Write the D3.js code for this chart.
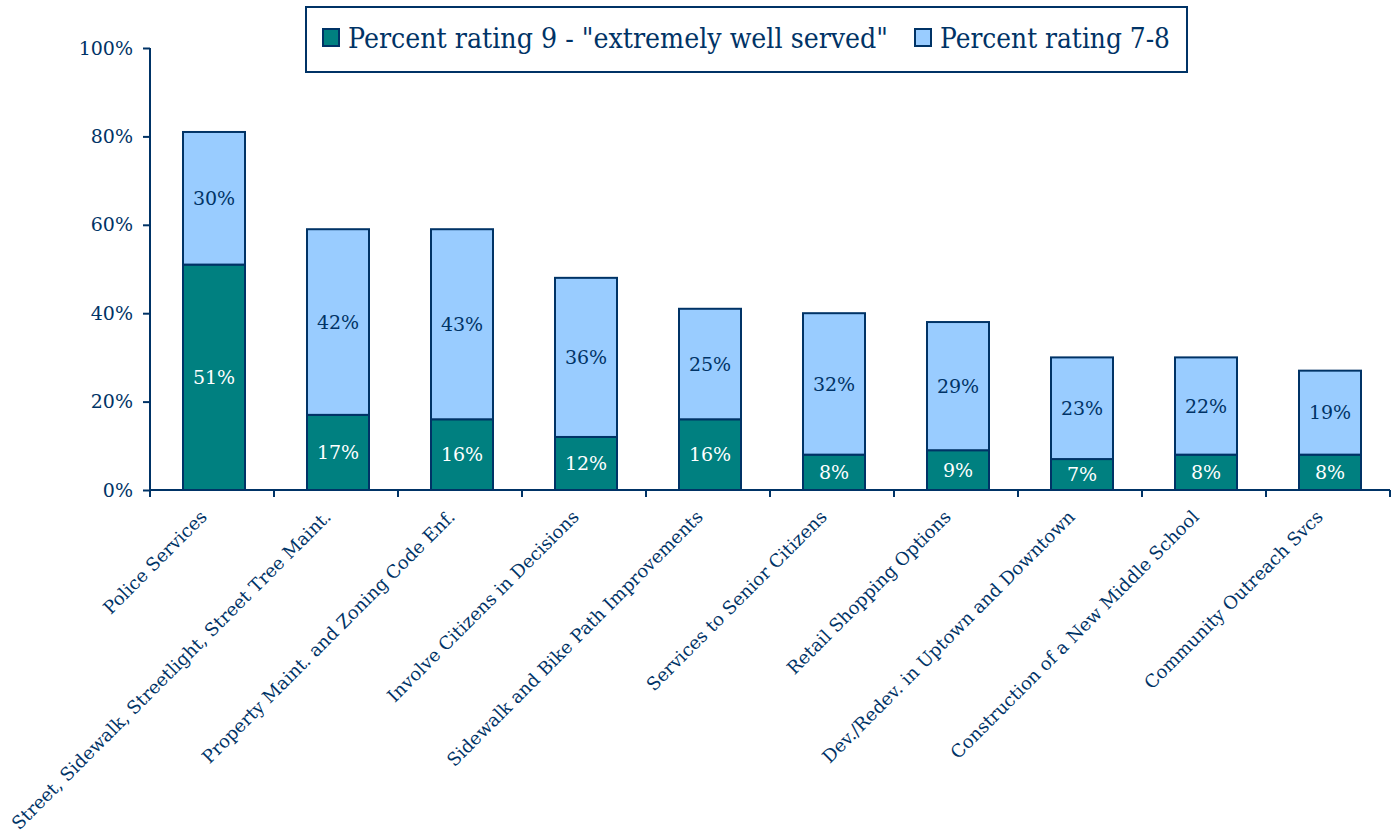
<!DOCTYPE html>
<html>
<head>
<meta charset="utf-8">
<script src="https://cdn.jsdelivr.net/npm/d3@7"></script>
<style>
  body { margin: 0; background: #fff; }
  text { font-family: "DejaVu Serif", "Liberation Serif", serif; fill: #003366; }
</style>
</head>
<body>
<svg></svg>
<script>
// categories and series
var categories = [
  'Police Services',
  'Street, Sidewalk, Streetlight, Street Tree Maint.',
  'Property Maint. and Zoning Code Enf.',
  'Involve Citizens in Decisions',
  'Sidewalk and Bike Path Improvements',
  'Services to Senior Citizens',
  'Retail Shopping Options',
  'Dev./Redev. in Uptown and Downtown',
  'Construction of a New Middle School',
  'Community Outreach Svcs'
];
var rating9 = [51, 17, 16, 12, 16, 8, 9, 7, 8, 8];
var rating78 = [30, 42, 43, 36, 25, 32, 29, 23, 22, 19];
var yTicks = [0, 20, 40, 60, 80, 100];
var seriesNames = ['Percent rating 9 - "extremely well served"', 'Percent rating 7-8'];

var width = 1399, height = 833;
var navy = '#003366';
var colors = ['#008080', '#99ccff'];

var svg = d3.select('svg')
  .attr('width', width)
  .attr('height', height);

var x = d3.scaleBand()
  .domain(categories)
  .range([150, 1390])
  .paddingInner(0.5)
  .paddingOuter(0.25);

var y = d3.scaleLinear()
  .domain([0, 100])
  .range([490, 48]);

var rows = categories.map(function(c, i) {
  return { cat: c, r9: rating9[i], r78: rating78[i] };
});
var stack = d3.stack().keys(['r9', 'r78'])(rows);

// bars
var layers = svg.selectAll('.layer')
  .data(stack)
  .enter()
  .append('g')
  .attr('transform', 'translate(2,0)')
  .attr('fill', (d, i) => colors[i]);

layers.selectAll('rect')
  .data(d => d)
  .enter()
  .append('rect')
  .attr('x', d => x(d.data.cat))
  .attr('width', x.bandwidth())
  .attr('y', d => y(d[1]))
  .attr('height', d => y(d[0]) - y(d[1]))
  .attr('stroke', navy)
  .attr('stroke-width', 2);

// value labels
layers.each(function(layer, li) {
  d3.select(this).selectAll('text')
    .data(layer)
    .enter()
    .append('text')
    .attr('x', d => x(d.data.cat) + x.bandwidth() / 2)
    .attr('y', d => (y(d[0]) + y(d[1])) / 2)
    .attr('dy', '0.35em')
    .attr('text-anchor', 'middle')
    .style('font-size', '19px')
    .style('fill', li === 0 ? '#ffffff' : navy)
    .text(d => (d[1] - d[0]) + '%');
});

// y axis
var yAxis = svg.append('g')
  .attr('transform', 'translate(150,0)')
  .call(d3.axisLeft(y).tickValues(yTicks).tickFormat(d => d + '%').tickSize(7).tickPadding(10));

// x axis with ticks between categories
var step = x.step();
var xAxis = svg.append('g')
  .attr('transform', 'translate(0,490)');
xAxis.append('line')
  .attr('x1', 150).attr('x2', 1390)
  .attr('y1', 0).attr('y2', 0);
xAxis.selectAll('.tk')
  .data(d3.range(categories.length + 1))
  .enter()
  .append('line')
  .attr('class', 'tk')
  .attr('x1', i => 150 + i * step)
  .attr('x2', i => 150 + i * step)
  .attr('y1', 0).attr('y2', 7);
xAxis.selectAll('text')
  .data(categories)
  .enter()
  .append('text')
  .attr('transform', d => 'translate(' + (x(d) + x.bandwidth() / 2 - 4) + ',28) rotate(-45)')
  .attr('text-anchor', 'end')
  .style('font-size', '18px')
  .text(d => d);

[yAxis, xAxis].forEach(function(g) {
  g.selectAll('path, line').attr('stroke', navy).attr('stroke-width', 2);
  g.select('.domain').attr('d', 'M0,48V490');
});
yAxis.selectAll('text').style('font-size', '19px').style('fill', navy)
  .style('font-family', '"DejaVu Serif", serif');

// legend
var legend = svg.append('g');
legend.append('rect')
  .attr('x', 306).attr('y', 7)
  .attr('width', 881).attr('height', 65)
  .attr('fill', '#fff')
  .attr('stroke', navy)
  .attr('stroke-width', 2);

var legendItems = [
  { sx: 323, tx: 348, len: 540 },
  { sx: 915, tx: 940, len: 230 }
];

seriesNames.forEach(function(name, i) {
  var it = legendItems[i];
  legend.append('rect')
    .attr('x', it.sx).attr('y', 29)
    .attr('width', 16).attr('height', 17)
    .attr('fill', colors[i])
    .attr('stroke', navy)
    .attr('stroke-width', 2);
  legend.append('text')
    .attr('x', it.tx).attr('y', 48)
    .style('font-size', '27px')
    .attr('textLength', it.len)
    .attr('lengthAdjust', 'spacingAndGlyphs')
    .text(name);
});
</script>
</body>
</html>
